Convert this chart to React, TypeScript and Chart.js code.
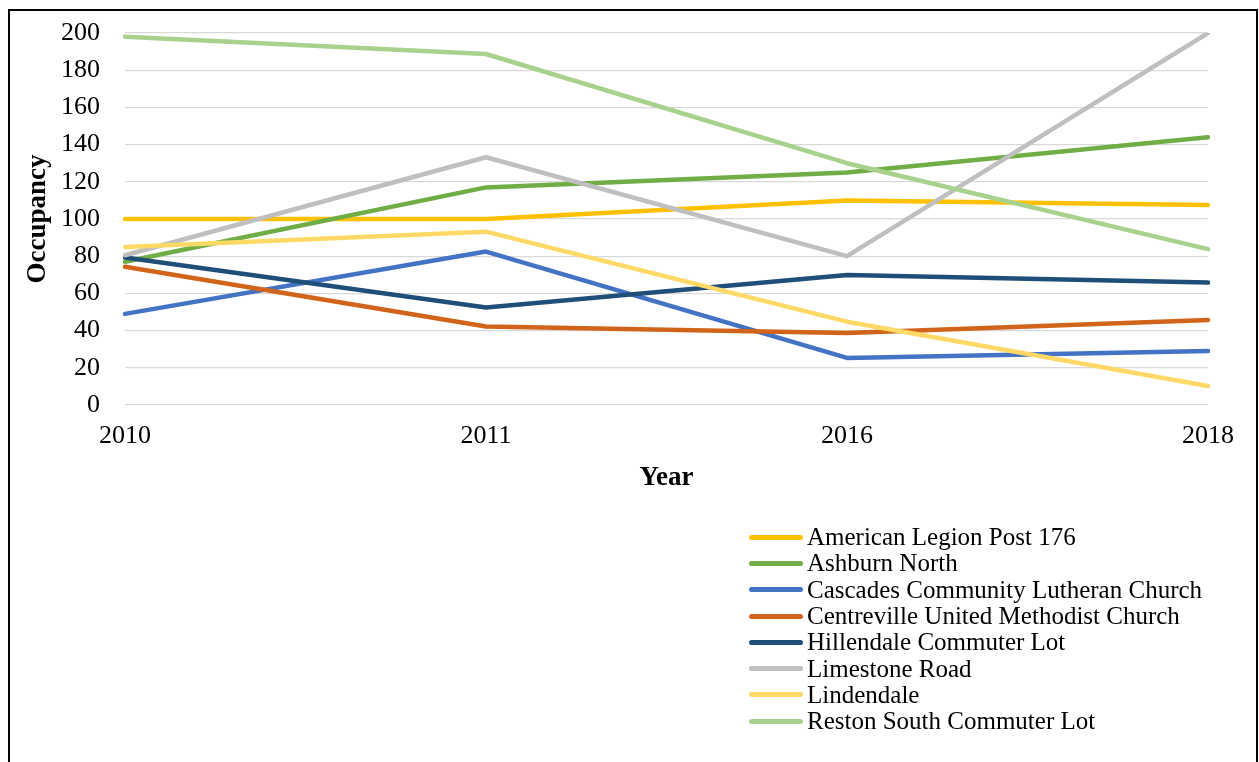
import React, { useEffect, useRef } from "react";
import { Chart, registerables } from "chart.js";

Chart.register(...registerables);

const years = ["2010", "2011", "2016", "2018"];

const seriesNames = [
  "American Legion Post 176",
  "Ashburn North",
  "Cascades Community Lutheran Church",
  "Centreville United Methodist Church",
  "Hillendale Commuter Lot",
  "Limestone Road",
  "Lindendale",
  "Reston South Commuter Lot",
];

const americanLegion = [100, 100, 110, 107.5];
const ashburnNorth = [77, 117, 125, 144];
const cascades = [49, 82.5, 25.3, 29];
const centreville = [74.3, 42.2, 38.7, 45.7];
const hillendale = [79.3, 52.4, 69.9, 65.8];
const limestone = [80.5, 133.2, 80, 200];
const lindendale = [85, 93.2, 44.8, 10.2];
const restonSouth = [198, 188.7, 130, 83.8];

const seriesValues = [
  americanLegion,
  ashburnNorth,
  cascades,
  centreville,
  hillendale,
  limestone,
  lindendale,
  restonSouth,
];

const seriesColors = [
  "#FFC000",
  "#70AD47",
  "#4472C4",
  "#D2631A",
  "#1F4E79",
  "#BFBFBF",
  "#FFD966",
  "#A9D18E",
];

const yMin = 0;
const yMax = 200;
const yStep = 20;

const FONT = "'Liberation Serif', 'Times New Roman', serif";

export default function App() {
  const canvasRef = useRef<HTMLCanvasElement | null>(null);

  useEffect(() => {
    document.body.style.overflow = "hidden";
    const canvas = canvasRef.current;
    if (!canvas) return;
    const n = seriesNames.length;
    const chart = new Chart(canvas, {
      type: "line",
      data: {
        labels: years,
        datasets: seriesNames.map((name, i) => ({
          label: name,
          data: seriesValues[i],
          borderColor: seriesColors[i],
          backgroundColor: seriesColors[i],
          borderWidth: 4.5,
          borderCapStyle: "round",
          borderJoinStyle: "round",
          pointRadius: 0,
          pointHoverRadius: 0,
          tension: 0,
          fill: false,
          order: n - i,
        })),
      },
      options: {
        responsive: false,
        animation: false,
        devicePixelRatio: 1,
        layout: { padding: { left: 0, top: 22, right: 48, bottom: 268 } },
        plugins: {
          legend: { display: false },
          tooltip: { enabled: false },
          title: { display: false },
        },
        scales: {
          x: {
            type: "category",
            offset: false,
            grid: { display: false, drawTicks: false },
            border: { display: false },
            ticks: {
              color: "#000",
              padding: 16,
              maxRotation: 0,
              autoSkip: false,
              font: { family: FONT, size: 26 },
            },
            title: {
              display: true,
              text: "Year",
              color: "#000",
              padding: { top: 0, bottom: 0 },
              font: { family: FONT, size: 27, weight: "bold" },
            },
            afterFit: (scale: any) => {
              scale.height = 89;
              scale.paddingLeft = 0;
              scale.paddingRight = 0;
            },
          },
          y: {
            min: yMin,
            max: yMax,
            grid: { color: "#D9D9D9", lineWidth: 1.3, drawTicks: false },
            border: { display: false },
            ticks: {
              stepSize: yStep,
              color: "#000",
              padding: 25,
              font: { family: FONT, size: 26 },
            },
            title: {
              display: true,
              text: "Occupancy",
              color: "#000",
              padding: { top: 12, bottom: 0 },
              font: { family: FONT, size: 27, weight: "bold" },
            },
            afterFit: (scale: any) => {
              scale.width = 115;
              scale.paddingTop = 0;
              scale.paddingBottom = 0;
            },
          },
        },
      },
    });
    return () => chart.destroy();
  }, []);

  return (
    <div
      style={{
        position: "absolute",
        left: 8,
        top: 9,
        width: 1246,
        height: 751,
        borderLeft: "2px solid #000",
        borderTop: "2px solid #000",
        borderRight: "2px solid #000",
        background: "#fff",
      }}
    >
      <canvas
        ref={canvasRef}
        width={1246}
        height={751}
        style={{ position: "absolute", left: 0, top: 0, width: 1246, height: 751 }}
      />
      <div
        style={{
          position: "absolute",
          left: 739,
          top: 513,
          fontFamily: FONT,
          fontSize: 25,
          color: "#000",
        }}
      >
        {seriesNames.map((name, i) => (
          <div
            key={name}
            style={{ display: "flex", alignItems: "center", height: 26.3, whiteSpace: "nowrap" }}
          >
            <span
              style={{
                display: "inline-block",
                width: 54,
                height: 5,
                borderRadius: 3,
                background: seriesColors[i],
                marginRight: 4,
              }}
            />
            <span style={{ lineHeight: "26px" }}>{name}</span>
          </div>
        ))}
      </div>
    </div>
  );
}
